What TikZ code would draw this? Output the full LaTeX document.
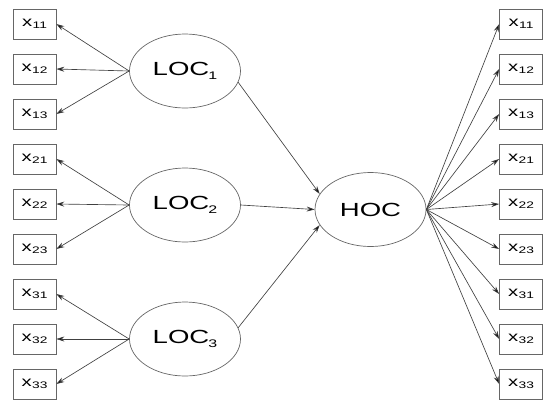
\documentclass[tikz,border=0pt]{standalone}
\usepackage{fontspec}
\setmainfont{Liberation Sans}
\newfontfamily\widefont[FakeStretch=1.45]{Liberation Sans}
\usepackage{tikz}
\usetikzlibrary{arrows.meta,positioning,shapes.geometric}

% indicator label: x with a lowered index
\newcommand{\ind}[1]{x\kern0.5pt\raisebox{-2.5pt}{\fontsize{9.5}{9.5}\selectfont #1}}
% construct label with a lowered index
\newcommand{\con}[2]{#1\kern-1pt\raisebox{-4pt}{\fontsize{11}{11}\selectfont #2}}

\begin{document}
\begin{tikzpicture}[
  x=1pt, y=-1pt,
  >={Stealth[length=8pt,width=5pt,fill=black]},
  item/.style={draw=black!60, line width=0.7pt, minimum width=43pt, minimum height=30pt,
    inner sep=0pt, font=\widefont\fontsize{14}{14}\selectfont},
  latent/.style={draw=black!60, line width=0.7pt, ellipse, minimum width=111pt, minimum height=74pt,
    inner sep=0pt, font=\widefont\fontsize{19}{19}\selectfont},
  edge/.style={->, draw=black!75, line width=0.65pt}
]
\useasboundingbox (0,0) rectangle (549,400);

% first order constructs
\node[latent] (LOC1) at (185,71)  {\con{LOC}{1}};
\node[latent] (LOC2) at (185,205) {\con{LOC}{2}};
\node[latent] (LOC3) at (185,339) {\con{LOC}{3}};
% second order construct
\node[latent] (HOC) at (370.5,209.5) {HOC};

% indicators, left and right columns
\foreach \n [count=\i from 0] in {11,12,13,21,22,23,31,32,33} {
  \node[item] (l\n) at (34.5,24+45*\i) {\ind{\n}};
  \node[item] (r\n) at (521,24+45*\i) {\ind{\n}};
}

% loadings of the first order constructs
\foreach \g in {1,2,3}
  \foreach \k in {1,2,3}
    \draw[edge] (LOC\g.west) -- (l\g\k.east);

% paths into HOC
\draw[edge] (LOC1.-12) -- (HOC.163);
\draw[edge] (LOC2.east) -- (HOC.west);
\draw[edge] (LOC3.12) -- (HOC.197);

% HOC to the repeated indicators
\foreach \n in {11,12,13,21,22,23,31,32,33}
  \draw[edge] (HOC.east) -- (r\n.west);
\end{tikzpicture}
\end{document}
